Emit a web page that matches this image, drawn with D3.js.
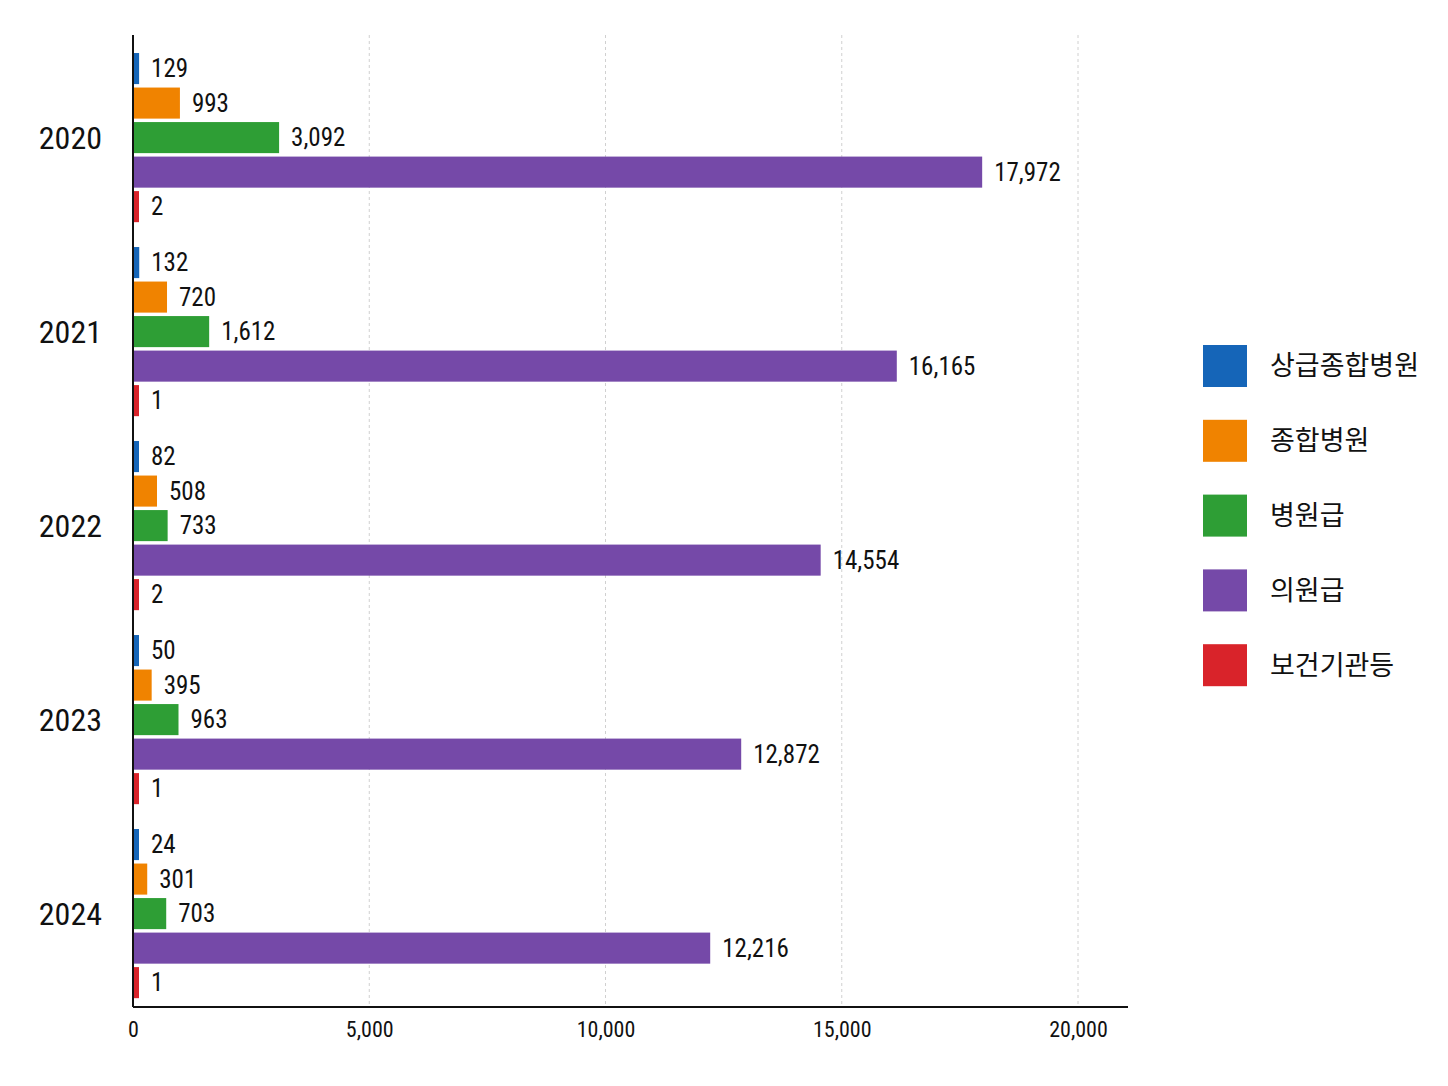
<!DOCTYPE html>
<html><head><meta charset="utf-8">
<script src="https://cdn.jsdelivr.net/npm/d3@7"></script>
<style>body{margin:0;background:#fff}text{font-family:"Roboto Condensed","Roboto","Noto Sans CJK KR",sans-serif}</style>
</head><body><svg id="c" width="1448" height="1086"></svg>
<script>
// data
var years = ["2020", "2021", "2022", "2023", "2024"];
var series = ["상급종합병원", "종합병원", "병원급", "의원급", "보건기관등"];
var colors = ["#1565b8", "#f08300", "#2e9e35", "#7549a8", "#d9232a"];
var values = [
  [129, 993, 3092, 17972, 2],
  [132, 720, 1612, 16165, 1],
  [82, 508, 733, 14554, 2],
  [50, 395, 963, 12872, 1],
  [24, 301, 703, 12216, 1]
];
var ticks = [0, 5000, 10000, 15000, 20000];

var svg = d3.select("#c");
var x = d3.scaleLinear().domain([0, 20000]).range([133, 1078]);
var y = d3.scaleBand().domain(years).range([40.6, 1010.6]);
var yi = d3.scaleBand().domain(series).range([0, y.bandwidth()]).paddingInner(0.1).paddingOuter(0.36);
var fmt = d3.format(",");

// grid
svg.selectAll(".grid").data(ticks.slice(1)).enter().append("line")
  .attr("x1", d => x(d)).attr("x2", d => x(d)).attr("y1", 35).attr("y2", 1007)
  .attr("stroke", "#d0d0d0").attr("stroke-dasharray", "3,3");

var g = svg.selectAll(".yr").data(years).enter().append("g")
  .attr("transform", d => "translate(0," + y(d) + ")");

g.append("text").attr("x", 102).attr("y", (d) => yi(series[2]) + yi.bandwidth() / 2)
  .attr("dy", "0.35em").attr("text-anchor", "end").attr("font-size", 32).attr("fill", "#111").text(d => d);

g.each(function(yr, i) {
  var gg = d3.select(this);
  var rows = series.map((s, j) => ({s: s, v: values[i][j], c: colors[j]}));
  gg.selectAll("rect").data(rows).enter().append("rect")
    .attr("x", x(0)).attr("y", d => yi(d.s)).attr("height", yi.bandwidth())
    .attr("width", d => Math.max(x(d.v) - x(0), 6)).attr("fill", d => d.c);
  gg.selectAll(".v").data(rows).enter().append("text")
    .attr("x", d => x(0) + Math.max(x(d.v) - x(0), 6) + 12)
    .attr("y", d => yi(d.s) + yi.bandwidth() / 2).attr("dy", "0.35em")
    .attr("font-size", 25).attr("fill", "#111").text(d => fmt(d.v));
});

// axes
var xa = svg.append("g").attr("transform", "translate(0,1007)")
  .call(d3.axisBottom(x).tickValues(ticks).tickSize(0).tickPadding(14).tickFormat(fmt));
xa.select(".domain").remove();
xa.selectAll("text").attr("font-size", 22).attr("fill", "#111");
svg.append("line").attr("x1", 133).attr("x2", 1128).attr("y1", 1007).attr("y2", 1007).attr("stroke", "#111").attr("stroke-width", 2);
svg.append("line").attr("x1", 133).attr("x2", 133).attr("y1", 35).attr("y2", 1007).attr("stroke", "#111").attr("stroke-width", 2);

// legend
var lg = svg.selectAll(".lg").data(series).enter().append("g")
  .attr("transform", (d, i) => "translate(1203," + (345 + i * 74.8) + ")");
lg.append("rect").attr("width", 44).attr("height", 42).attr("fill", (d, i) => colors[i]);
lg.append("text").attr("x", 67).attr("y", 21).attr("dy", "0.35em").attr("font-size", 27)
  .attr("font-family", "Noto Sans CJK KR").attr("fill", "#111").text(d => d);
</script></body></html>
